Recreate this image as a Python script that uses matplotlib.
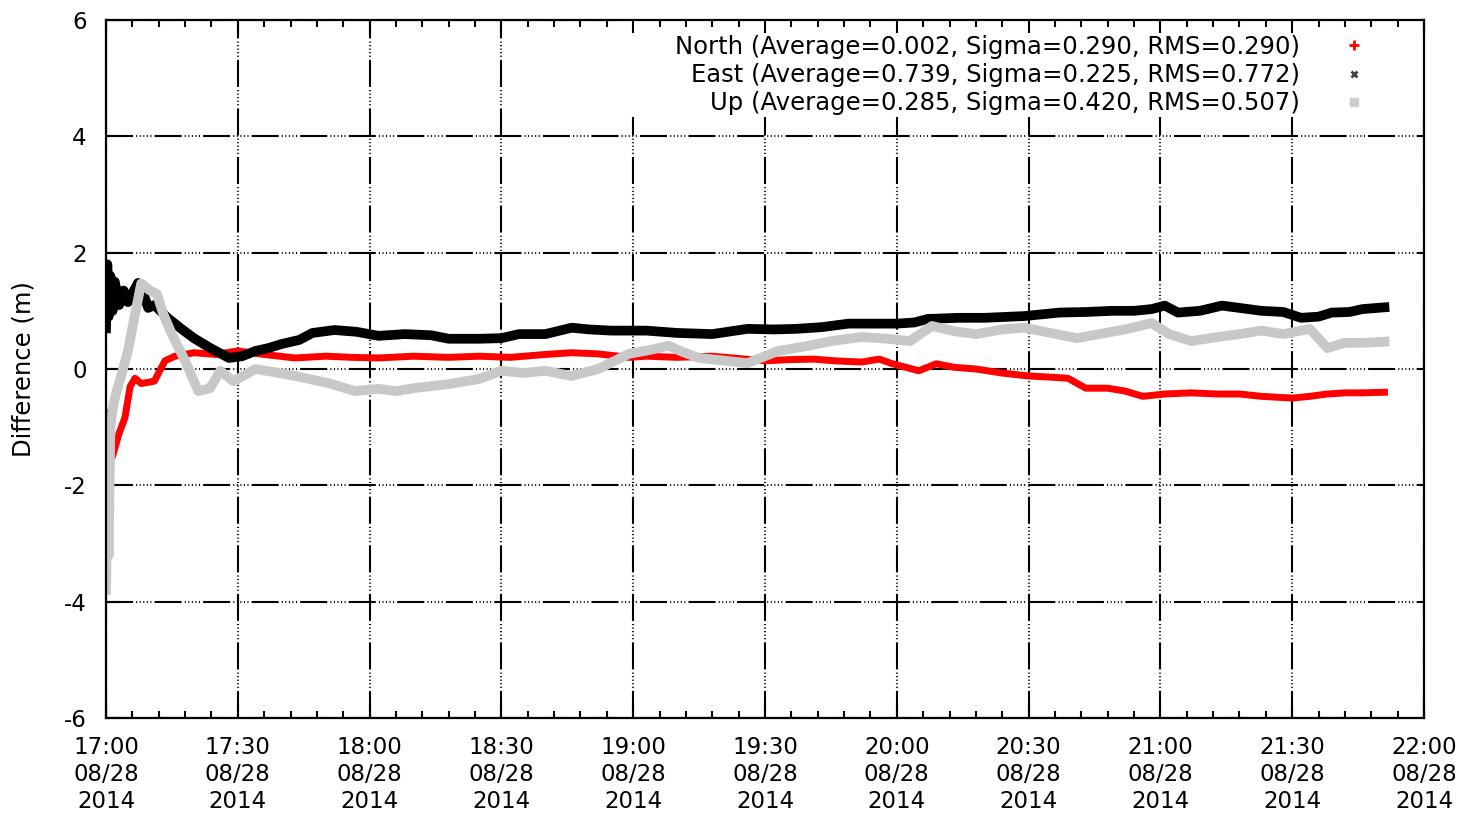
import pandas as pd
import matplotlib
matplotlib.use("Agg")
import matplotlib.pyplot as plt
import matplotlib.dates as mdates
from matplotlib.lines import Line2D
from matplotlib.patches import Rectangle

plt.rcParams['font.family'] = ['DejaVu Sans']
plt.rcParams['axes.unicode_minus'] = False

START = pd.Timestamp("2014-08-28 17:00")

# minutes after 17:00 and difference (m)
north_min = [0, 0.3, 0.6, 1, 1.5, 2, 3, 4.3, 5.5, 6.6, 8, 11, 13.4, 15.7, 20, 25, 30, 36, 43, 50,
             56, 62, 70, 78, 85, 92, 100, 106, 112, 119, 123, 130, 138, 144, 150, 155, 161, 166,
             172, 176, 179, 185, 189, 193, 198, 204, 210, 215, 219, 223, 228, 232, 236, 241, 247,
             253, 258, 263, 270, 274, 278, 282, 286, 291]
north_val = [-1.9, -0.75, -1.6, -1.0, -1.5, -1.36, -1.1, -0.84, -0.3, -0.16, -0.25, -0.21, 0.14, 0.22,
             0.28, 0.25, 0.31, 0.25, 0.19, 0.22, 0.2, 0.19, 0.22, 0.2, 0.22, 0.2, 0.25, 0.28, 0.26,
             0.2, 0.22, 0.2, 0.22, 0.18, 0.14, 0.16, 0.17, 0.14, 0.12, 0.17, 0.09, -0.03, 0.09, 0.03,
             0.0, -0.07, -0.12, -0.14, -0.16, -0.33, -0.33, -0.38, -0.47, -0.43, -0.41, -0.43, -0.43,
             -0.47, -0.5, -0.47, -0.43, -0.41, -0.41, -0.40]

east_min = [0, 0.3, 0.6, 1, 1.5, 2, 3, 4, 5, 6, 7.3, 8.5, 9.6, 11, 14, 17, 20, 24, 28, 31, 34, 37,
            40, 44, 47, 52, 57, 62, 68, 74, 78, 85, 90, 94, 100, 106, 110, 115, 123, 130, 138, 146,
            152, 157, 163, 169, 176, 180, 184, 187, 194, 200, 209, 217, 223, 229, 234, 238, 241,
            244, 249, 254, 258, 263, 268, 272, 276, 279, 283, 286, 291]
east_val = [0.7, 1.8, 0.9, 1.6, 1.0, 1.5, 1.1, 1.35, 1.15, 1.3, 1.48, 1.3, 1.05, 1.1, 0.88, 0.7, 0.53,
            0.35, 0.19, 0.22, 0.31, 0.36, 0.43, 0.5, 0.62, 0.67, 0.64, 0.57, 0.6, 0.58, 0.52, 0.52,
            0.53, 0.6, 0.6, 0.71, 0.68, 0.66, 0.66, 0.62, 0.6, 0.69, 0.68, 0.69, 0.72, 0.78, 0.78,
            0.78, 0.8, 0.86, 0.88, 0.88, 0.91, 0.97, 0.98, 1.0, 1.0, 1.03, 1.09, 0.97, 1.0, 1.09,
            1.05, 1.0, 0.98, 0.88, 0.9, 0.97, 0.98, 1.03, 1.06]

up_min = [0, 0.3, 0.6, 1, 1.5, 2, 3.5, 5, 6.5, 8, 10, 11.6, 13, 15, 18, 21, 23.7, 26, 29, 34, 38,
          43, 50.5, 56.7, 62, 66, 70, 78, 85, 90, 95, 100, 106, 112, 119, 124, 128, 131, 135, 140,
          146, 153, 160, 165, 172, 178, 183, 188, 193, 198, 204, 209, 215, 221, 226, 232, 238, 242,
          247, 253, 258, 263, 268, 274, 278, 282, 286, 291]
up_val = [-3.8, -2.2, -3.2, -1.0, -0.7, -0.5, -0.1, 0.31, 0.9, 1.47, 1.35, 1.29, 0.95, 0.6, 0.14,
          -0.38, -0.33, -0.03, -0.21, 0.0, -0.05, -0.12, -0.24, -0.38, -0.34, -0.38, -0.33, -0.26,
          -0.17, -0.03, -0.07, -0.03, -0.12, 0.0, 0.26, 0.33, 0.4, 0.3, 0.19, 0.15, 0.1, 0.31, 0.4,
          0.48, 0.55, 0.52, 0.48, 0.74, 0.65, 0.6, 0.68, 0.71, 0.62, 0.53, 0.6, 0.68, 0.79, 0.6,
          0.48, 0.55, 0.6, 0.66, 0.6, 0.69, 0.36, 0.45, 0.45, 0.47]

labels = ["North (Average=0.002, Sigma=0.290, RMS=0.290)",
          "East (Average=0.739, Sigma=0.225, RMS=0.772)",
          "Up (Average=0.285, Sigma=0.420, RMS=0.507)"]


def to_time(minutes):
    return START + pd.to_timedelta(minutes, unit="min")


fig = plt.figure(figsize=(14.64, 8.14), dpi=100)
rect = [106 / 1464, 96 / 814, 1318 / 1464, 698 / 814]

# background axes only carries the grid, the key area blanks it out
ax_bg = fig.add_axes(rect)
ax = fig.add_axes(rect, sharex=ax_bg, sharey=ax_bg)
ax.set_facecolor("none")

ax.plot(to_time(north_min), north_val, color="#ff0000", lw=5)
ax.plot(to_time(east_min), east_val, color="black", lw=7)
ax.plot(to_time(up_min), up_val, color="#c8c8c8", lw=7)

ax.set_xlim(to_time(0), to_time(300))
ax.set_ylim(-6, 6)
ax.set_yticks(range(-6, 7, 2))
ax.xaxis.set_major_locator(mdates.MinuteLocator(byminute=[0, 30]))
ax.xaxis.set_minor_locator(mdates.MinuteLocator(byminute=range(0, 60, 6)))
ax.xaxis.set_major_formatter(mdates.DateFormatter("%H:%M\n%m/%d\n%Y"))

ax.tick_params(which="both", direction="in", top=True, right=False, labelsize=16.5, width=1.5)
ax.tick_params(which="major", length=9)
ax.tick_params(which="minor", length=5)
ax.tick_params(axis="x", which="major", pad=13)
ax.tick_params(axis="y", pad=14)
for t in ax.get_xticklabels():
    t.set_linespacing(1.22)
for s in ax.spines.values():
    s.set_linewidth(1.6)

ax_bg.tick_params(which="both", length=0, labelbottom=False, labelleft=False)
for s in ax_bg.spines.values():
    s.set_visible(False)
ax_bg.grid(True, which="major", color="black", lw=1.5,
           linestyle=(0, (13, 1.5, 0.5, 1.2, 0.5, 1.2, 0.5, 1.2, 0.5, 1.2, 0.5, 1.5)))
ax_bg.add_patch(Rectangle((0.39, 0.861), 0.61, 0.139, transform=ax_bg.transAxes,
                          facecolor="white", edgecolor="none", zorder=3))

ax.set_ylabel("Difference (m)", fontsize=17.5, labelpad=20)

handles = [Line2D([], [], color="#ff0000", marker="+", ls="", ms=7, mew=2),
           Line2D([], [], color="#444444", marker="x", ls="", ms=5, mew=2),
           Line2D([], [], color="#cccccc", marker="s", ls="", ms=6)]
ax.legend(handles, labels, loc="upper right", bbox_to_anchor=(0.965, 0.979), frameon=False,
          markerfirst=False, fontsize=17.5, handletextpad=1.2, labelspacing=0.18,
          borderpad=0, borderaxespad=0)

fig.savefig("out.png", dpi=100)
